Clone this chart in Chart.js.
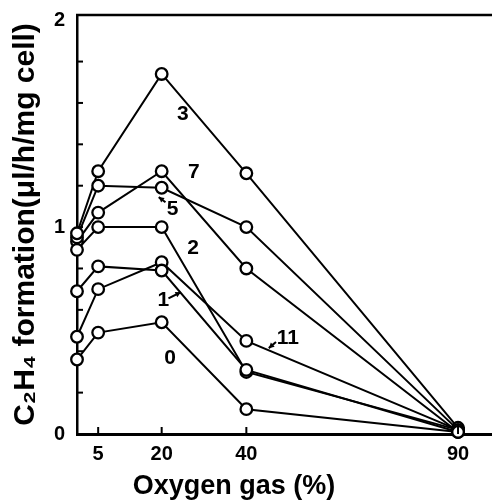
<!DOCTYPE html>
<html>
<head>
<meta charset="utf-8">
<script src="https://cdn.jsdelivr.net/npm/chart.js@4.4.1/dist/chart.umd.min.js"></script>
<style>
  html, body { margin: 0; padding: 0; background: #fff; overflow: hidden; }
  /* a bit wider than the window: chart.js keeps a point-size margin on the right */
  #box { width: 500px; height: 502px; }
</style>
</head>
<body>
<div id="box"><canvas id="oxChart"></canvas></div>
<script>
// oxygen concentration (%)
const oxygen = [0, 5, 20, 40, 90];
const xTicks = [5, 20, 40, 90];
const yLabels = [0, 1, 2];

// C2H4 formation, one array per curve (label = curve number)
const curve0  = [0.36, 0.49, 0.54, 0.12, 0.01];
const curve1  = [0.69, 0.81, 0.79, 0.31, 0.01];
const curve2  = [0.89, 1.00, 1.00, 0.30, 0.02];
const curve3  = [0.97, 1.27, 1.74, 1.26, 0.03];
const curve5  = [0.95, 1.20, 1.19, 1.00, 0.02];
const curve7  = [0.93, 1.07, 1.27, 0.80, 0.01];
const curve11 = [0.47, 0.70, 0.83, 0.45, 0.02];
const curves = [curve0, curve1, curve2, curve3, curve5, curve7, curve11];

// curve numbers written in the plot, placed in data units
const curveNames = ['3', '7', '5', '2', '1', '0', '11'];
const nameX = [25.0, 27.6, 22.6, 27.4, 20.4, 22.0, 49.8];
const nameY = [1.545, 1.265, 1.085, 0.90, 0.645, 0.365, 0.465];

// little pointer arrows: from (x,y) to (x,y) in data units
const arrowFrom = [[20.9, 1.12], [21.6, 0.655], [47.0, 0.445]];
const arrowTo   = [[19.3, 1.145], [24.5, 0.685], [45.3, 0.415]];

const xTitle = 'Oxygen gas (%)';
const xTitleAt = 37.1; // centre of the axis title, in % oxygen

const FONT = "'Liberation Sans', Arial, sans-serif";

const lineSets = curves.map(c => ({
    data: c.map((v, i) => ({ x: oxygen[i], y: v })),
    showLine: true,
    borderColor: '#000',
    borderWidth: 2,
    pointRadius: 0,
    clip: false,
    order: 1
}));
const pointSets = curves.map(c => ({
    data: c.map((v, i) => ({ x: oxygen[i], y: v })),
    showLine: false,
    pointRadius: 5.8,
    pointBorderWidth: 2.3,
    pointBorderColor: '#000',
    pointBackgroundColor: '#fff',
    clip: false,
    order: 0
}));

const extras = {
    id: 'extras',
    afterDraw(chart) {
        const ctx = chart.ctx;
        const xs = chart.scales.x, ys = chart.scales.y;
        const area = chart.chartArea;
        ctx.save();
        ctx.strokeStyle = '#000';
        ctx.fillStyle = '#000';
        // top frame line
        ctx.lineWidth = 2.5;
        ctx.beginPath();
        ctx.moveTo(area.left - 1, area.top);
        ctx.lineTo(chart.width, area.top);
        ctx.stroke();
        // inward tick marks
        ctx.lineWidth = 2;
        xs.ticks.forEach(t => {
            const px = xs.getPixelForValue(t.value);
            ctx.beginPath();
            ctx.moveTo(px, area.bottom);
            ctx.lineTo(px, area.bottom - 7);
            ctx.stroke();
        });
        ys.ticks.forEach(t => {
            if (t.value <= 0 || t.value >= 2) return;
            const py = ys.getPixelForValue(t.value);
            ctx.beginPath();
            ctx.moveTo(area.left, py);
            ctx.lineTo(area.left + 6, py);
            ctx.stroke();
        });
        // x axis title (sits left of the axis centre in the original)
        ctx.font = 'bold 27px ' + FONT;
        ctx.textAlign = 'center';
        ctx.textBaseline = 'middle';
        ctx.fillText(xTitle, xs.getPixelForValue(xTitleAt), xs.bottom - 15);
        // curve numbers
        ctx.font = 'bold 21px ' + FONT;
        curveNames.forEach((n, i) => {
            ctx.fillText(n, xs.getPixelForValue(nameX[i]), ys.getPixelForValue(nameY[i]));
        });
        // pointer arrows
        ctx.lineWidth = 2;
        arrowFrom.forEach((f, i) => {
            const x1 = xs.getPixelForValue(f[0]), y1 = ys.getPixelForValue(f[1]);
            const x2 = xs.getPixelForValue(arrowTo[i][0]), y2 = ys.getPixelForValue(arrowTo[i][1]);
            const a = Math.atan2(y2 - y1, x2 - x1);
            ctx.beginPath();
            ctx.moveTo(x1, y1);
            ctx.lineTo(x2, y2);
            ctx.stroke();
            ctx.beginPath();
            ctx.moveTo(x2, y2);
            ctx.lineTo(x2 - 6 * Math.cos(a - 0.5), y2 - 6 * Math.sin(a - 0.5));
            ctx.lineTo(x2 - 6 * Math.cos(a + 0.5), y2 - 6 * Math.sin(a + 0.5));
            ctx.closePath();
            ctx.fill();
        });
        ctx.restore();
    }
};

new Chart(document.getElementById('oxChart'), {
    type: 'scatter',
    data: { datasets: pointSets.concat(lineSets) },
    plugins: [extras],
    options: {
        responsive: true,
        maintainAspectRatio: false,
        animation: false,
        layout: { padding: { top: 15, right: 0, left: 0, bottom: 0 } },
        plugins: { legend: { display: false }, tooltip: { enabled: false } },
        scales: {
            x: {
                type: 'linear',
                min: 0,
                max: 98,
                afterBuildTicks(scale) { scale.ticks = xTicks.map(v => ({ value: v })); },
                afterFit(scale) {
                    scale.height = 68;
                    scale.paddingLeft = 0;
                    scale.paddingRight = 0;
                },
                grid: { drawOnChartArea: false, drawTicks: false },
                border: { display: true, color: '#000', width: 3 },
                ticks: {
                    color: '#000',
                    padding: 8,
                    maxRotation: 0,
                    font: { family: FONT, size: 20, weight: 'bold' }
                }
            },
            y: {
                type: 'linear',
                min: 0,
                max: 2.025,
                afterFit(scale) {
                    scale.width = 77;
                    scale.paddingTop = 0;
                    scale.paddingBottom = 0;
                },
                grid: { drawOnChartArea: false, drawTicks: false },
                border: { display: true, color: '#000', width: 2.5 },
                ticks: {
                    stepSize: 0.2,
                    includeBounds: false,
                    color: '#000',
                    padding: 12,
                    font: { family: FONT, size: 20, weight: 'bold' },
                    callback: v => yLabels.some(l => Math.abs(l - v) < 1e-6) ? String(Math.round(v)) : ''
                },
                title: {
                    display: true,
                    text: 'C\u2082H\u2084 formation(\u03bcl/h/mg cell)',
                    color: '#000',
                    padding: { top: 8, bottom: 0 },
                    font: { family: FONT, size: 30, weight: 'bold' }
                }
            }
        }
    }
});
</script>
</body>
</html>
